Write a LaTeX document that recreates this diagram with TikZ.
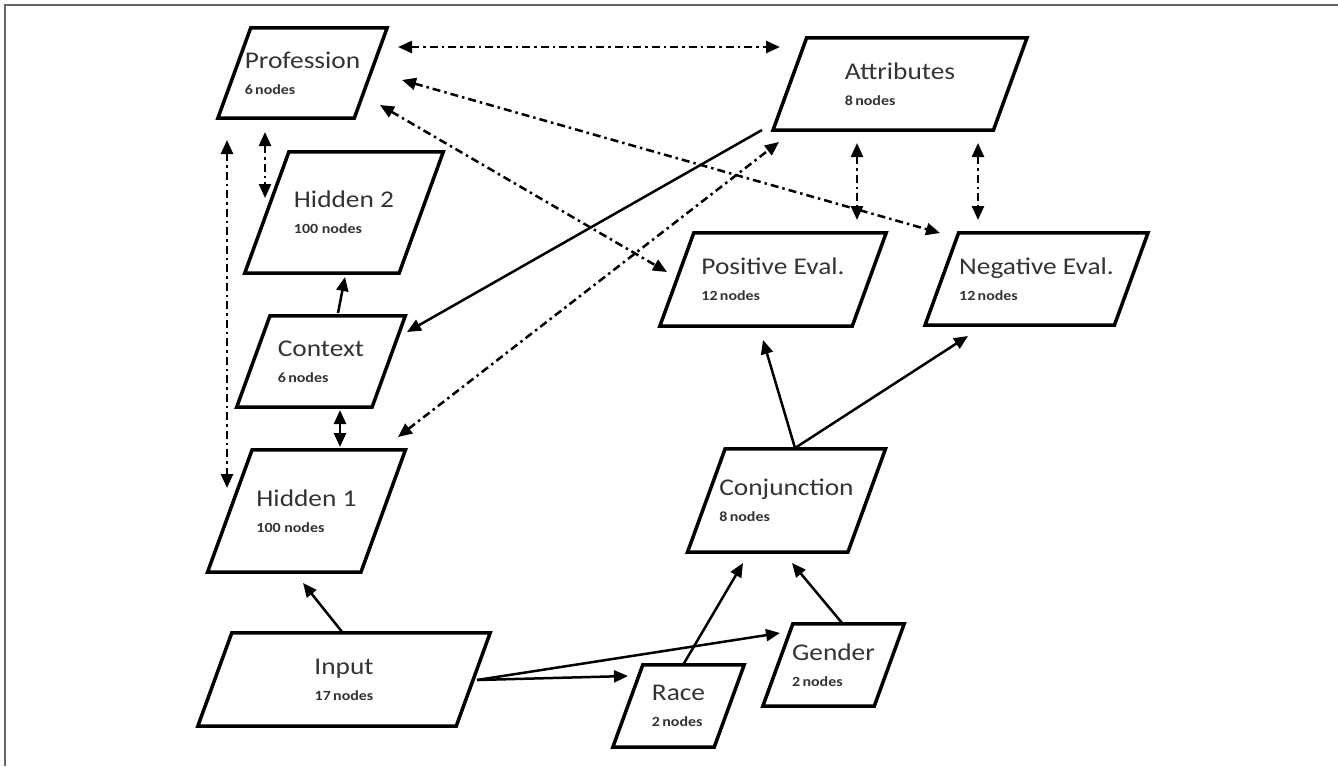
\documentclass[tikz,border=0pt]{standalone}
\usepackage{fontspec}
\setmainfont{Carlito}[FakeStretch=1.14]
\usetikzlibrary{calc}
\usetikzlibrary{arrows.meta}

\newcommand{\nodecount}[1]{{\fontsize{14}{16}\selectfont\bfseries #1}}

\begin{document}
\begin{tikzpicture}[x=1pt,y=-1pt,
	layer/.style={rectangle,align=left,inner sep=0pt,text=black!80,font=\fontsize{24}{26}\selectfont,
		append after command={\pgfextra{\draw[line width=3.5pt] let \p1=(\tikzlastnode.north), \p2=(\tikzlastnode.south), \n1={0.182*(\y1-\y2)} in
			([xshift=\n1]\tikzlastnode.north west)--([xshift=\n1]\tikzlastnode.north east)--([xshift=-\n1]\tikzlastnode.south east)--([xshift=-\n1]\tikzlastnode.south west)--cycle;}}},
	link/.style={line width=2.5pt,-{Triangle[length=14pt,width=12pt]}},
	twolink/.style={line width=2.5pt,{Triangle[length=14pt,width=12pt]}-{Triangle[length=14pt,width=12pt]}},
	dashlink/.style={twolink,dash pattern=on 8pt off 4pt on 2.5pt off 4pt}]
	\useasboundingbox (0,0) rectangle (1338,766);
	\draw[black!60,line width=1.5pt] (5,766)--(5,5)--(1338,5);
	\node[layer,minimum width=136pt,minimum height=90pt] (prof) at (302.5,73) {Profession\\\nodecount{6\,nodes}};
	\node[layer,minimum width=220pt,minimum height=92pt] (attr) at (900,84) {Attributes\\\nodecount{8\,nodes}};
	\node[layer,minimum width=154pt,minimum height=121pt] (hid2) at (344,212.5) {Hidden 2\\\nodecount{100 nodes}};
	\node[layer,minimum width=135pt,minimum height=91pt] (ctx) at (321,361.5) {Context\\\nodecount{6\,nodes}};
	\node[layer,minimum width=153pt,minimum height=122pt] (hid1) at (306.5,511) {Hidden 1\\\nodecount{100 nodes}};
	\node[layer,align=center,minimum width=258pt,minimum height=93pt] (input) at (344,679.5) {Input\\\nodecount{17\,nodes}};
	\node[layer,minimum width=101pt,minimum height=82pt] (race) at (678.5,706) {Race\\\nodecount{2\,nodes}};
	\node[layer,minimum width=111pt,minimum height=82pt] (gender) at (833.5,665) {Gender\\\nodecount{2\,nodes}};
	\node[layer,minimum width=160pt,minimum height=103pt] (conj) at (786.5,500.5) {Conjunction\\\nodecount{8\,nodes}};
	\node[layer,minimum width=192pt,minimum height=93pt] (pos) at (773,279.5) {Positive Eval.\\\nodecount{12\,nodes}};
	\node[layer,minimum width=189pt,minimum height=92pt] (neg) at (1036.5,279) {Negative Eval.\\\nodecount{12\,nodes}};
	\draw[dashlink] ([shift={(95.5,-26)}]prof.center)--([shift={(-120,-37)}]attr.center);
	\draw[dashlink] ([shift={(99.5,7)}]prof.center)--([shift={(-96.5,-46)}]neg.center);
	\draw[dashlink] ([shift={(77.5,32)}]prof.center)--([shift={(-106,-7.5)}]pos.center);
	\draw[link] ([shift={(-138,46)}]attr.center)--([shift={(86,-29.5)}]ctx.center);
	\draw[dashlink] ([shift={(91.5,-74)}]hid1.center)--([shift={(-121,58)}]attr.center);
	\draw[dashlink] ([shift={(-43,59)}]attr.center)--([shift={(84,-59.5)}]pos.center);
	\draw[dashlink] ([shift={(78,59)}]attr.center)--([shift={(-58.5,-59)}]neg.center);
	\draw[dashlink] ([shift={(-37.5,59)}]prof.center)--([shift={(-79,-14.5)}]hid2.center);
	\draw[dashlink] ([shift={(-75.5,67)}]prof.center)--([shift={(-79.5,-23)}]hid1.center);
	\draw[link] ([shift={(17,-48.5)}]ctx.center)--([shift={(1,64.5)}]hid2.center);
	\draw[twolink] ([shift={(19,48.5)}]ctx.center)--([shift={(33.5,-64)}]hid1.center);
	\draw[link] ([shift={(-1,-46.5)}]input.center)--([shift={(-3.5,72)}]hid1.center);
	\draw[link] ([shift={(133,0.5)}]input.center)--([shift={(-50.5,-30)}]race.center);
	\draw[link] ([shift={(133,0.5)}]input.center)--([shift={(-53.5,-32)}]gender.center);
	\draw[link] ([shift={(4.5,-41)}]race.center)--([shift={(-43.5,62.5)}]conj.center);
	\draw[link] ([shift={(8.5,-42)}]gender.center)--([shift={(5.5,62.5)}]conj.center);
	\draw[link] ([shift={(8.5,-52.5)}]conj.center)--([shift={(-10,60.5)}]pos.center);
	\draw[link] ([shift={(8.5,-52.5)}]conj.center)--([shift={(-68.5,57)}]neg.center);
\end{tikzpicture}
\end{document}
